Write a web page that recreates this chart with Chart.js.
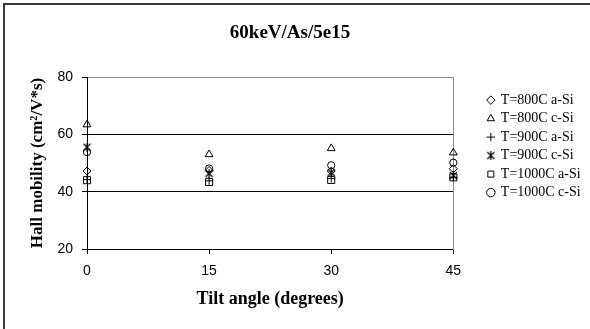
<!DOCTYPE html>
<html>
<head>
<meta charset="utf-8">
<script src="https://cdn.jsdelivr.net/npm/chart.js@4.4.1/dist/chart.umd.min.js"></script>
<style>
  html, body { margin: 0; padding: 0; background: #fff; }
  #wrap { position: relative; width: 590px; height: 329px; overflow: hidden; }
  #frame {
    position: absolute; left: 3px; top: 3px; width: 700px; height: 400px;
    border: 2px solid #3a3a3a; pointer-events: none;
  }
  canvas { position: absolute; left: 0; top: 0; }
</style>
</head>
<body>
<div id="wrap">
  <canvas id="chart" width="590" height="329"></canvas>
  <div id="frame"></div>
</div>
<script>
// tilt angles (degrees)
const tiltAngles = [0, 15, 30, 45];

// Hall mobility (cm2/V*s)
const t800aSi = [47.2, 47.4, 47.2, 48.0];
const t800cSi = [63.4, 53.0, 55.1, 53.6];
const t900aSi = [44.2, 43.8, 44.6, 45.0];
const t900cSi = [55.5, 46.4, 46.6, 45.6];
const t1000aSi = [44.0, 43.4, 44.1, 45.0];
const t1000cSi = [53.8, 48.1, 49.2, 50.1];

const seriesNames = [
  "T=800C a-Si", "T=800C c-Si", "T=900C a-Si",
  "T=900C c-Si", "T=1000C a-Si", "T=1000C c-Si"
];
const yTicks = [20, 40, 60, 80];
const xTicks = [0, 15, 30, 45];

// Excel style "x with a bar" marker
function starMarker(size) {
  const c = document.createElement("canvas");
  c.width = size;
  c.height = size;
  const g = c.getContext("2d");
  g.strokeStyle = "#000";
  g.lineWidth = 1.2;
  g.beginPath();
  g.moveTo(1, 1); g.lineTo(size - 1, size - 1);
  g.moveTo(size - 1, 1); g.lineTo(1, size - 1);
  g.moveTo(size / 2, 0); g.lineTo(size / 2, size);
  g.stroke();
  return c;
}

const toPoints = (values) => values.map((v, i) => ({ x: tiltAngles[i], y: v }));

const markerStyles = [
  { pointStyle: "rectRot", pointRadius: 4 },
  { pointStyle: "triangle", pointRadius: 4.5 },
  { pointStyle: "cross", pointRadius: 4 },
  { pointStyle: starMarker(9), pointRadius: 4 },
  { pointStyle: "rect", pointRadius: 5 },
  { pointStyle: "circle", pointRadius: 3.6 },
];

const allSeries = [t800aSi, t800cSi, t900aSi, t900cSi, t1000aSi, t1000cSi];

const datasets = allSeries.map((values, i) => ({
  label: seriesNames[i],
  data: toPoints(values),
  showLine: false,
  clip: false,
  backgroundColor: "rgba(0,0,0,0)",
  borderColor: "#000",
  borderWidth: 1,
  pointBackgroundColor: "rgba(0,0,0,0)",
  pointBorderColor: "#000",
  pointBorderWidth: 1,
  pointHoverRadius: markerStyles[i].pointRadius,
  ...markerStyles[i],
}));

const serif = "'Liberation Serif', 'Times New Roman', serif";
const sans = "'Liberation Sans', Arial, sans-serif";

new Chart(document.getElementById("chart"), {
  type: "scatter",
  data: { datasets: datasets },
  options: {
    responsive: false,
    animation: false,
    layout: { padding: { left: 0, right: 10, top: 0, bottom: 0 } },
    scales: {
      x: {
        type: "linear",
        min: 0,
        max: 45,
        afterBuildTicks: (scale) => {
          scale.ticks = xTicks.map((v) => ({ value: v }));
        },
        afterFit: (scale) => {
          scale.height = 80;
        },
        grid: {
          drawOnChartArea: false,
          color: "#000",
          tickLength: 5,
        },
        border: { color: "#000", width: 1 },
        ticks: {
          color: "#000",
          padding: 9,
          font: { family: sans, size: 14 },
        },
        title: {
          display: true,
          text: "Tilt angle (degrees)",
          color: "#000",
          font: { family: serif, size: 18, weight: "bold" },
          padding: { top: 0, bottom: 19 },
        },
      },
      y: {
        type: "linear",
        min: 20,
        max: 80,
        afterBuildTicks: (scale) => {
          scale.ticks = yTicks.map((v) => ({ value: v }));
        },
        afterFit: (scale) => {
          scale.width = 87;
        },
        grid: {
          color: (ctx) => {
            const v = ctx.tick ? ctx.tick.value : null;
            if (v === 80) return "#8c8c8c";
            if (v === 20) return "rgba(0,0,0,0)";
            return "#000";
          },
          tickColor: "#000",
          tickLength: 5,
        },
        border: { color: "#000", width: 1 },
        ticks: {
          color: "#000",
          padding: 9,
          font: { family: sans, size: 14 },
        },
        title: {
          display: true,
          text: "Hall mobility (cm²/V*s)",
          color: "#000",
          font: { family: serif, size: 17, weight: "bold" },
          padding: { top: 27.8, bottom: 0 },
        },
      },
      // empty right axis: gives the gap before the legend and the grey plot border
      y2: {
        type: "linear",
        position: "right",
        min: 20,
        max: 80,
        afterFit: (scale) => {
          scale.width = 30;
        },
        grid: { display: false, drawTicks: false },
        border: { color: "#8c8c8c", width: 1 },
        ticks: { display: false },
      },
    },
    plugins: {
      title: {
        display: true,
        text: "60keV/As/5e15",
        color: "#000",
        font: { family: serif, size: 19, weight: "bold" },
        padding: { top: 21.6, bottom: 32.6 },
      },
      legend: {
        position: "right",
        align: "start",
        fullSize: false,
        title: {
          display: true,
          text: " ",
          font: { size: 8 },
          padding: { top: 1, bottom: 1 },
        },
        labels: {
          usePointStyle: true,
          boxWidth: 6,
          boxHeight: 6,
          padding: 4.5,
          color: "#000",
          font: { family: serif, size: 14 },
        },
      },
      tooltip: { enabled: false },
    },
  },
});
</script>
</body>
</html>
